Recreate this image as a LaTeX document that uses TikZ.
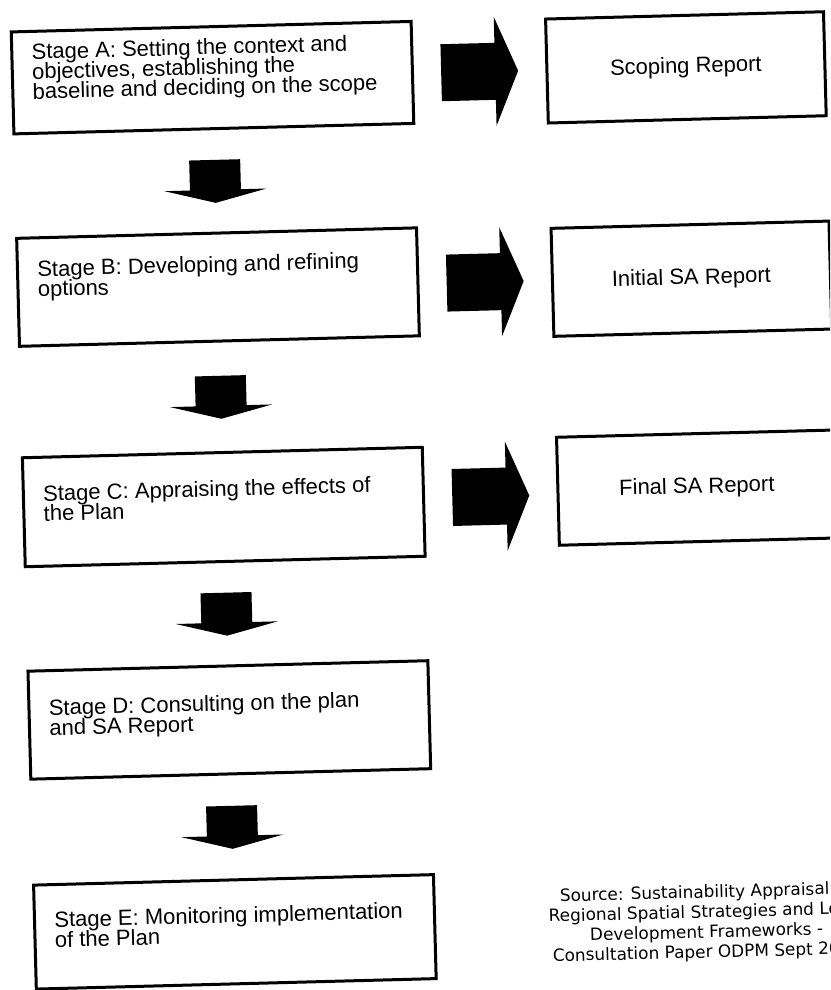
\documentclass[tikz,border=0pt]{standalone}
\usepackage{fontspec}
\setmainfont{Liberation Sans}
\newfontfamily\srcfont{DejaVu Sans}
\usetikzlibrary{calc}
\setlength{\lineskiplimit}{-10pt}

\begin{document}
\begin{tikzpicture}[
	x=0.5pt,
	y=-0.5pt,
	stage/.style={
		rectangle,
		draw=black,
		line width=1.5pt,
		minimum width=200pt,
		minimum height=54pt
	},
	stagetext/.style={
		anchor=north west,
		inner sep=0pt,
		align=left,
		font=\fontsize{11}{10}\selectfont
	},
	report/.style={
		rectangle,
		draw=black,
		line width=1.5pt,
		minimum width=139pt,
		minimum height=54pt,
		font=\fontsize{11}{10}\selectfont
	},
	srcnote/.style={
		align=center,
		inner sep=0pt,
		font=\srcfont\fontsize{8.45}{10}\selectfont
	},
	downblock/.pic={
		\fill (-25.5,-21) -- (25.5,-21) -- (25.5,9) -- (51,9) -- (0,22) -- (-51,9) -- (-25.5,9) -- cycle;
	},
	rightblock/.pic={
		\fill (-38.5,-28.5) -- (15.5,-28.5) -- (15.5,-54.5) -- (38.5,0) -- (15.5,54.5) -- (15.5,28.5) -- (-38.5,28.5) -- cycle;
	}
]

\useasboundingbox (0,0) rectangle (830,990);
\fill[white] (0,0) rectangle (830,990);
\clip (0,0) rectangle (830,990);

\begin{scope}[rotate around={1.5:(415,495)}, transform shape]

\node[stage, minimum height=51pt] (stA) at (223.5, 72.5) {};
\node[stage] (stB) at (223.5, 282) {};
\node[stage, minimum height=54.5pt] (stC) at (223.5, 502) {};
\node[stage] (stD) at (223.5, 715) {};
\node[stage, minimum height=52pt] (stE) at (223.5, 927) {};

\node[stagetext] (txA) at ([shift={(21,13)}]stA.north west) {Stage A: Setting the context and\\objectives, establishing the\\baseline and deciding on the scope};
\node[stagetext] (txB) at ([shift={(21,24)}]stB.north west) {Stage B: Developing and refining\\options};
\node[stagetext] (txC) at ([shift={(21,29)}]stC.north west) {Stage C: Appraising the effects of\\the Plan};
\node[stagetext] (txD) at ([shift={(21,30)}]stD.north west) {Stage D: Consulting on the plan\\and SA Report};
\node[stagetext] (txE) at ([shift={(21,28)}]stE.north west) {Stage E: Monitoring implementation\\of the Plan};

\node[report, minimum height=52pt] (repA) at (697, 74.6) {Scoping Report};
\node[report] (repB) at (697, 286) {Initial SA Report};
\node[report] (repC) at (697, 495) {Final SA Report};

\pic at ($(stA.south)!0.5!(stB.north)$) {downblock};
\pic at ($(stB.south)!0.5!(stC.north)$) {downblock};
\pic at ($(stC.south)!0.5!(stD.north)$) {downblock};
\pic at ($(stD.south)!0.5!(stE.north)$) {downblock};

\pic at ($(stA.east)!0.5!(repA.west)$) {rightblock};
\pic at ($(stB.east)!0.5!(repB.west)$) {rightblock};
\pic at ($(stC.east)!0.5!(repC.west)$) {rightblock};

\node[srcnote] (src) at (695, 930.6) {Source: Sustainability Appraisal of\\Regional Spatial Strategies and Local\\Development Frameworks -\\Consultation Paper ODPM Sept 2004};

\end{scope}
\end{tikzpicture}
\end{document}
